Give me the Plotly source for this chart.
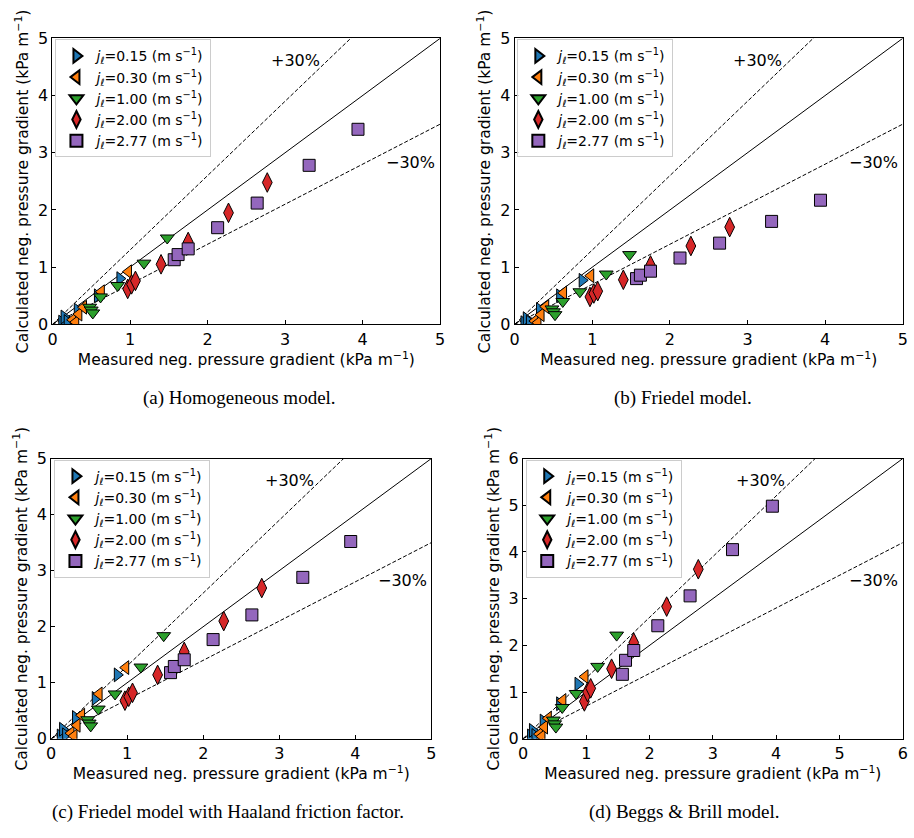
import plotly.graph_objects as go

# ---------------- data ----------------
groups = ["0.15", "0.30", "1.00", "2.00", "2.77"]

meas_015 = [0.12, 0.15, 0.19, 0.32, 0.58, 0.87]
meas_030 = [0.26, 0.30, 0.34, 0.40, 0.63, 0.98]
meas_100 = [0.48, 0.50, 0.52, 0.62, 0.84, 1.18, 1.48]
meas_200 = [0.97, 1.02, 1.07, 1.40, 1.75, 2.27, 2.77]
meas_277 = [1.57, 1.62, 1.75, 2.13, 2.64, 3.31, 3.94]

# (a) Homogeneous
homo_015 = [0.04, 0.13, 0.05, 0.25, 0.50, 0.80]
homo_030 = [0.08, 0.04, 0.18, 0.30, 0.57, 0.92]
homo_100 = [0.30, 0.25, 0.20, 0.48, 0.68, 1.07, 1.51]
homo_200 = [0.62, 0.70, 0.76, 1.05, 1.44, 1.95, 2.48]
homo_277 = [1.13, 1.22, 1.32, 1.69, 2.12, 2.78, 3.41]

# (b) Friedel
fried_015 = [0.03, 0.10, 0.04, 0.26, 0.50, 0.77]
fried_030 = [0.06, 0.03, 0.17, 0.31, 0.55, 0.85]
fried_100 = [0.27, 0.22, 0.17, 0.40, 0.57, 0.88, 1.22]
fried_200 = [0.48, 0.54, 0.58, 0.78, 1.03, 1.37, 1.70]
fried_277 = [0.80, 0.86, 0.93, 1.16, 1.42, 1.80, 2.17]

# (c) Friedel with Haaland
haal_015 = [0.05, 0.17, 0.07, 0.38, 0.72, 1.14]
haal_030 = [0.10, 0.05, 0.24, 0.42, 0.80, 1.27]
haal_100 = [0.34, 0.28, 0.23, 0.53, 0.80, 1.28, 1.84]
haal_200 = [0.68, 0.75, 0.82, 1.14, 1.55, 2.10, 2.69]
haal_277 = [1.18, 1.29, 1.41, 1.77, 2.21, 2.88, 3.52]

# (d) Beggs & Brill
bb_015 = [0.06, 0.18, 0.07, 0.38, 0.75, 1.17]
bb_030 = [0.10, 0.05, 0.25, 0.44, 0.82, 1.33]
bb_100 = [0.40, 0.32, 0.25, 0.67, 0.97, 1.55, 2.22]
bb_200 = [0.80, 1.00, 1.08, 1.50, 2.06, 2.83, 3.63]
bb_277 = [1.38, 1.68, 1.89, 2.42, 3.06, 4.05, 4.98]

measured = [meas_015, meas_030, meas_100, meas_200, meas_277]
models = [
    ("(a) Homogeneous model.", [homo_015, homo_030, homo_100, homo_200, homo_277], 5),
    ("(b) Friedel model.", [fried_015, fried_030, fried_100, fried_200, fried_277], 5),
    ("(c) Friedel model with Haaland friction factor.", [haal_015, haal_030, haal_100, haal_200, haal_277], 5),
    ("(d) Beggs &amp; Brill model.", [bb_015, bb_030, bb_100, bb_200, bb_277], 6),
]

# ---------------- style ----------------
W, H = 914, 838
colors = ["#1f77b4", "#ff7f0e", "#2ca02c", "#d62728", "#9467bd"]
symbols = ["triangle-right", "triangle-left", "triangle-down", "diamond-tall", "square"]
sizes = [12, 12, 12, 14, 12]

# pixel boxes (left, right, top, bottom)
boxes = [(48, 440, 30, 322.7), (515.3, 907.7, 30, 322.7),
         (46.7, 431, 460, 746.7), (523.7, 907.7, 460, 746.7)]
legend_pos = [(51, 31), (518, 31), (50, 461), (527, 461)]
caption_pos = [(237, 398), (685, 398), (225, 822), (687, 822)]
plus_pos = [(3.13, 4.61), (3.13, 4.61), (3.13, 4.60), (3.75, 5.52)]
minus_pos = [(4.62, 2.83), (4.62, 2.83), (4.62, 2.82), (5.53, 3.38)]

font = "DejaVu Sans"
fig = go.Figure()
layout = {}
annotations = []

for k, (caption, calc, vmax) in enumerate(models):
    sfx = "" if k == 0 else str(k + 1)
    xa, ya = "x" + sfx, "y" + sfx
    leg = "legend" + sfx
    l, r, t, b = boxes[k]

    # reference lines
    for fac, dash in [(1.0, "solid"), (1.3, "4px,2px"), (0.7, "4px,2px")]:
        lx = [0, vmax]
        fig.add_trace(go.Scatter(x=lx, y=[fac * v for v in lx], mode="lines",
                                 line=dict(color="black", width=1, dash=dash),
                                 xaxis=xa, yaxis=ya, showlegend=False, hoverinfo="skip"))
    for g in range(5):
        fig.add_trace(go.Scatter(
            x=measured[g], y=calc[g], mode="markers",
            marker=dict(symbol=symbols[g], color=colors[g], size=sizes[g],
                        line=dict(color="black", width=1)),
            name=f"<i>j</i><sub>ℓ</sub>=%s (m s<sup>−1</sup>)" % groups[g],
            xaxis=xa, yaxis=ya, legend=leg, showlegend=True))

    axis_common = dict(showgrid=False, zeroline=False, ticks="inside", ticklen=4,
                       tickcolor="black", showline=True, linecolor="black", linewidth=1,
                       mirror=True, tickfont=dict(family=font, size=16, color="black"),
                       range=[0, vmax], dtick=1)
    layout["xaxis" + sfx] = dict(axis_common, domain=[l / W, r / W], anchor=ya,
                                 title=dict(text="Measured neg. pressure gradient (kPa m<sup>−1</sup>)",
                                            font=dict(family=font, size=15.5, color="black"), standoff=1))
    layout["yaxis" + sfx] = dict(axis_common, domain=[1 - b / H, 1 - t / H], anchor=xa,
                                 title=dict(text="Calculated neg. pressure gradient (kPa m<sup>−1</sup>)",
                                            font=dict(family=font, size=15.5, color="black"), standoff=5))
    lx0, ly0 = legend_pos[k]
    layout[leg] = dict(x=lx0 / W, y=1 - ly0 / H, xanchor="left", yanchor="top",
                       bgcolor="rgba(255,255,255,0.8)", bordercolor="#cccccc", borderwidth=1,
                       font=dict(family=font, size=14, color="black"),
                       tracegroupgap=0, itemsizing="constant")
    annotations.append(dict(x=plus_pos[k][0], y=plus_pos[k][1], xref=xa, yref=ya, text="+30%",
                            showarrow=False, font=dict(family=font, size=16, color="black")))
    annotations.append(dict(x=minus_pos[k][0], y=minus_pos[k][1], xref=xa, yref=ya, text="−30%",
                            showarrow=False, font=dict(family=font, size=16, color="black")))
    cx, cy = caption_pos[k]
    annotations.append(dict(x=cx / W, y=1 - cy / H, xref="paper", yref="paper", text=caption,
                            xanchor="center", yanchor="middle", showarrow=False,
                            font=dict(family="Liberation Serif", size=19, color="black")))

fig.update_layout(**layout)
fig.update_layout(width=W, height=H, margin=dict(l=0, r=0, t=0, b=0),
                  paper_bgcolor="white", plot_bgcolor="white", annotations=annotations)
fig.write_html("out.html")
